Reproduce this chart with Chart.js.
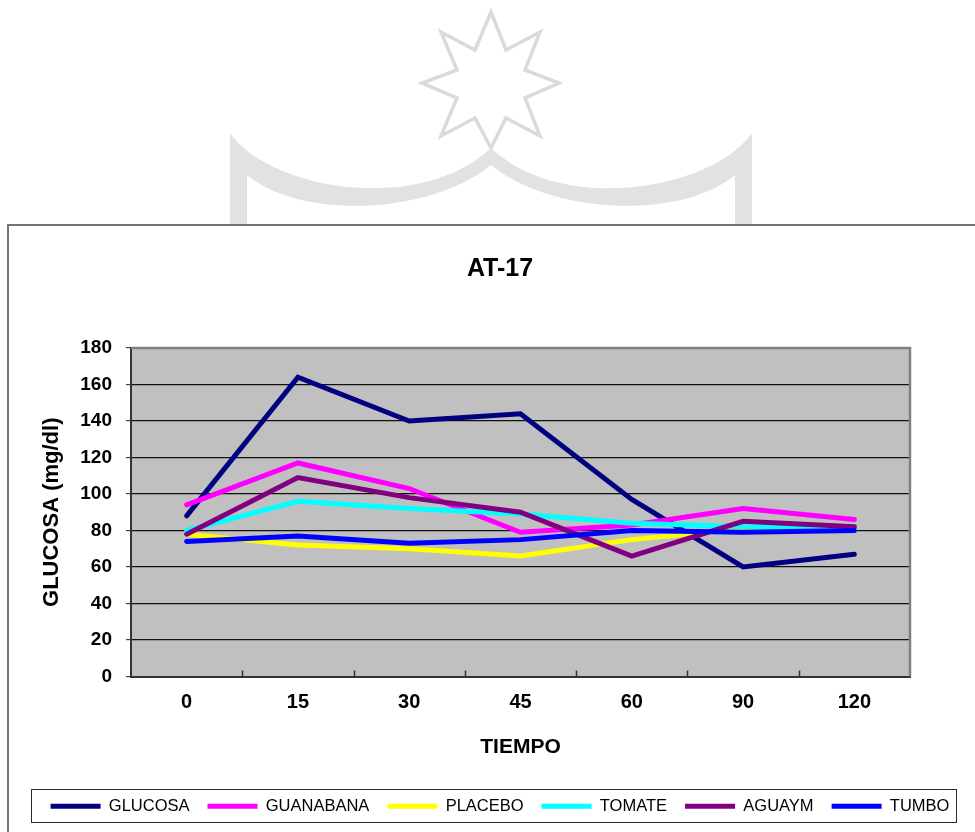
<!DOCTYPE html>
<html>
<head>
<meta charset="utf-8">
<script src="https://cdn.jsdelivr.net/npm/chart.js@4/dist/chart.umd.min.js"></script>
<style>
  html, body { margin: 0; padding: 0; width: 975px; height: 832px; overflow: hidden; background: #fff; }
  #wm { position: absolute; left: 0; top: 0; }
  #box { position: absolute; left: 7px; top: 224px; width: 1000px; height: 700px; border: 2px solid #737373; background: #fff; }
  #legbox { position: absolute; left: 31px; top: 789px; width: 924px; height: 32px; border: 1px solid #2a2a2a; }
  #c { position: absolute; left: 0; top: 0; }
</style>
</head>
<body>
<svg id="wm" width="975" height="230" viewBox="0 0 975 230">
  <polygon points="491,12 506,50 540,32 525,70 559,83 525,98 540,136 506,118 491,148 475,118 441,136 457,98 422,83 457,70 441,32 475,50"
           fill="none" stroke="#dadada" stroke-width="3.5" stroke-linejoin="miter"/>
  <path d="M230,133 C270,190 420,215 491,148 C562,215 712,190 752,133 L752,230 L735,230 L735,175 C682,220 552,215 491,165 C430,215 300,220 247,175 L247,230 L230,230 Z"
        fill="#e2e2e2"/>
</svg>
<div id="box"></div>
<div id="legbox"></div>
<canvas id="c" width="995" height="832" style="width:995px;height:832px"></canvas>
<script>
// ---- data ----
const categories = ['0', '15', '30', '45', '60', '90', '120'];
const seriesNames = ['GLUCOSA', 'GUANABANA', 'PLACEBO', 'TOMATE', 'AGUAYM', 'TUMBO'];
const glucosa   = [88, 164, 140, 144, 97, 60, 67];
const guanabana = [94, 117, 103, 79, 83, 92, 86];
const placebo   = [78, 72, 70, 66, 75, 81, 80];
const tomate    = [80, 96, 92, 89, 84, 82, 81];
const aguaym    = [78, 109, 98, 90, 66, 85, 82];
const tumbo     = [74, 77, 73, 75, 80, 79, 80];
const yTicks = [0, 20, 40, 60, 80, 100, 120, 140, 160, 180];

const seriesValues = [glucosa, guanabana, placebo, tomate, aguaym, tumbo];
const seriesColors = ['#000080', '#FF00FF', '#FFFF00', '#00FFFF', '#800080', '#0000FF'];

Chart.defaults.font.family = '"Liberation Sans", Arial, sans-serif';
Chart.defaults.color = '#000';

const plotDecor = {
  id: 'plotDecor',
  beforeDraw(chart) {
    const a = chart.chartArea, ctx = chart.ctx;
    ctx.save();
    ctx.fillStyle = '#C0C0C0';
    ctx.fillRect(a.left, a.top, a.right - a.left, a.bottom - a.top);
    ctx.restore();
  },
  beforeDatasetsDraw(chart) {
    const a = chart.chartArea, ctx = chart.ctx;
    const xs = chart.scales.x;
    ctx.save();
    ctx.strokeStyle = '#808080';
    ctx.lineWidth = 2.5;
    ctx.beginPath();
    ctx.moveTo(a.left, a.top);
    ctx.lineTo(a.right, a.top);
    ctx.lineTo(a.right, a.bottom);
    ctx.stroke();
    ctx.strokeStyle = '#333';
    ctx.lineWidth = 1.5;
    ctx.beginPath();
    for (let i = 0; i < categories.length - 1; i++) {
      const x = Math.round((xs.getPixelForTick(i) + xs.getPixelForTick(i + 1)) / 2) + 0.5;
      ctx.moveTo(x, a.bottom);
      ctx.lineTo(x, a.bottom - 6);
    }
    ctx.stroke();
    ctx.restore();
  }
};

new Chart(document.getElementById('c'), {
  type: 'line',
  data: {
    labels: categories,
    datasets: seriesNames.map((name, i) => ({
      label: name,
      data: seriesValues[i],
      borderColor: seriesColors[i],
      backgroundColor: seriesColors[i],
      borderWidth: 5,
      pointRadius: 0,
      pointHoverRadius: 0,
      tension: 0,
      fill: false,
      borderCapStyle: 'round',
      borderJoinStyle: 'miter',
      order: seriesNames.length - 1 - i
    }))
  },
  options: {
    responsive: false,
    devicePixelRatio: 1,
    animation: false,
    layout: { padding: { left: 5, right: 0, top: 0, bottom: 7.5 } },
    plugins: {
      tooltip: { enabled: false },
      title: {
        display: true,
        text: 'AT-17',
        color: '#000',
        font: { size: 25, weight: 'bold' },
        padding: { top: 254, bottom: 64 }
      },
      legend: {
        position: 'bottom',
        labels: {
          usePointStyle: true,
          pointStyle: 'line',
          pointStyleWidth: 50,
          color: '#000',
          font: { size: 16.5 },
          padding: 18,
          sort: (a, b) => a.datasetIndex - b.datasetIndex
        }
      }
    },
    scales: {
      x: {
        type: 'category',
        offset: true,
        grid: { display: false, drawTicks: false, offset: true },
        border: { display: true, color: '#333', width: 2 },
        ticks: { font: { size: 20, weight: 'bold' }, color: '#000', padding: 14, maxRotation: 0, autoSkip: false },
        title: { display: true, text: 'TIEMPO', color: '#000', font: { size: 21, weight: 'bold' }, padding: { top: 0, bottom: 20 } },
        afterFit: s => { s.height = 103.5; }
      },
      y: {
        type: 'linear',
        position: 'left',
        min: 0,
        max: 180,
        afterBuildTicks: s => { s.ticks = yTicks.map(v => ({ value: v })); },
        grid: { color: '#111', lineWidth: 1.2, tickLength: 5, tickColor: '#444', drawTicks: true },
        border: { display: true, color: '#333', width: 2 },
        ticks: { font: { size: 19, weight: 'bold' }, color: '#000', padding: 14 },
        title: { display: true, text: 'GLUCOSA (mg/dl)', color: '#000', font: { size: 22, weight: 'bold' }, padding: { top: 34, bottom: 0 } },
        afterFit: s => { s.width = 126; }
      },
      yR: {
        type: 'linear',
        position: 'right',
        display: true,
        grid: { display: false, drawTicks: false },
        border: { display: false },
        ticks: { display: false },
        afterFit: s => { s.width = 85; }
      }
    }
  },
  plugins: [plotDecor]
});
</script>
</body>
</html>
